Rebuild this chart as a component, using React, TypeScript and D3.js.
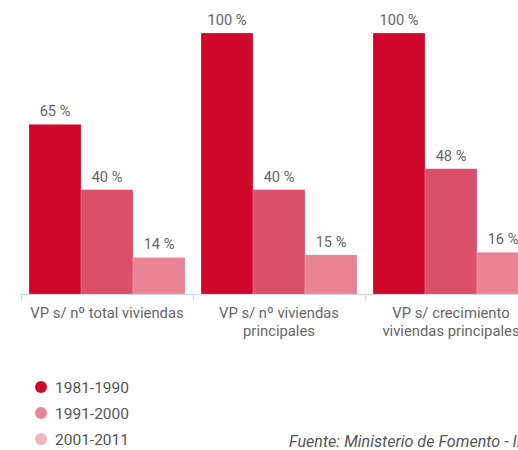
import React from "react";
import * as d3 from "d3";

const categories = [
  ["VP s/ nº total viviendas"],
  ["VP s/ nº viviendas", "principales"],
  ["VP s/ crecimiento", "viviendas principales"],
];
const seriesNames = ["1981-1990", "1991-2000", "2001-2011"];
const s1981 = [65, 100, 100];
const s1991 = [40, 40, 48];
const s2001 = [14, 15, 16];
const seriesValues = [s1981, s1991, s2001];
const barColors = ["#d0062a", "#dc4f68", "#e88395"];
const legendColors = ["#d0062a", "#e8858f", "#f0b6bf"];
const source = "Fuente: Ministerio de Fomento - INE";

export default function App() {
  const W = 518;
  const H = 450;
  const baseY = 294;
  const topY = 33;
  const x0 = d3
    .scaleBand<number>()
    .domain(categories.map((_, i) => i))
    .range([21, 21 + 172 * 3])
    .paddingInner(0)
    .paddingOuter(0);
  const x1 = d3
    .scaleBand<number>()
    .domain(seriesNames.map((_, i) => i))
    .range([8, x0.bandwidth() - 8])
    .padding(0);
  const y = d3.scaleLinear().domain([0, 100]).range([baseY, topY]);
  const font = "Roboto, 'Noto Sans', sans-serif";

  return (
    <svg
      width={W}
      height={H}
      style={{ position: "absolute", left: 0, top: 0, fontFamily: font, overflow: "hidden" }}
    >
      <rect width={W} height={H} fill="#fff" />
      {categories.map((lines, ci) => (
        <g key={ci} transform={`translate(${x0(ci)},0)`}>
          {seriesValues.map((vals, si) => {
            const v = vals[ci];
            const bx = x1(si)!;
            const bw = x1.bandwidth();
            return (
              <g key={si}>
                <rect
                  x={bx}
                  y={y(v)}
                  width={bw}
                  height={baseY - y(v)}
                  fill={barColors[si]}
                  stroke="#fff"
                  strokeOpacity={0.4}
                  strokeWidth={0.5}
                />
                <text
                  x={bx + bw / 2}
                  y={y(v) - 8}
                  textAnchor="middle"
                  fontSize={14.6}
                  fill="#666"
                >
                  {`${v} %`}
                </text>
              </g>
            );
          })}
          {lines.map((t, li) => (
            <text
              key={li}
              x={x0.bandwidth() / 2}
              y={318 + li * 18}
              textAnchor="middle"
              fontSize={14.8}
              fill="#666"
            >
              {t}
            </text>
          ))}
        </g>
      ))}
      <line x1={21} x2={W} y1={baseY + 0.5} y2={baseY + 0.5} stroke="#ccd6eb" strokeWidth={1} />
      {d3.range(categories.length + 1).map((i) => {
        const tx = 21 + i * x0.step();
        return (
          <line
            key={i}
            x1={tx + 0.5}
            x2={tx + 0.5}
            y1={baseY}
            y2={baseY + 6}
            stroke="#ccd6eb"
            strokeWidth={1}
          />
        );
      })}
      {seriesNames.map((n, i) => (
        <g key={n} transform={`translate(0,${387 + i * 26})`}>
          <circle cx={41} cy={0} r={6} fill={legendColors[i]} />
          <text x={55} y={5.5} fontSize={15.5} fill="#555">
            {n}
          </text>
        </g>
      ))}
      <text x={289} y={447} fontSize={16.1} fontStyle="italic" fill="#555">
        {source}
      </text>
    </svg>
  );
}
